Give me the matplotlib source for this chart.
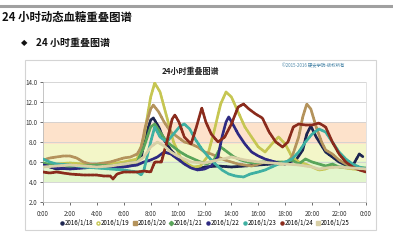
import matplotlib
matplotlib.use("Agg")
import matplotlib.pyplot as plt
from matplotlib.lines import Line2D
from matplotlib.patches import Rectangle

plt.rcParams['font.family'] = ['Noto Sans CJK SC', 'DejaVu Sans']

# ---------------- data ----------------
labels = ["2016/1/18", "2016/1/19", "2016/1/20", "2016/1/21",
          "2016/1/22", "2016/1/23", "2016/1/24", "2016/1/25"]
colors = ["#1d2550", "#c6c652", "#b4935c", "#5aa55a",
          "#2e2a82", "#3fb0a2", "#8a2b1c", "#d8cfa6"]
markers = ["o", "o", "s", "D", "o", "o", "o", "s"]

t18 = [0, 0.5, 1, 2, 3, 4, 5, 6, 7, 7.3, 7.6, 8.0, 8.2, 8.6, 9.0, 9.5, 10, 10.5, 11, 11.5, 12, 13, 14, 15, 16, 17, 18, 18.8, 19.3, 19.6, 19.9, 20.3, 21, 22, 22.5, 23, 23.5, 23.8]
v18 = [5.8, 5.5, 5.3, 5.4, 5.5, 5.6, 5.7, 5.8, 5.9, 6.5, 8.5, 10.2, 10.4, 9.5, 8.2, 7.2, 6.5, 6.0, 5.5, 5.3, 5.5, 5.6, 5.5, 5.6, 5.7, 5.8, 5.9, 6.2, 7.2, 8.8, 9.6, 8.5, 7.0, 6.0, 5.7, 5.6, 6.8, 6.5]

t19 = [0, 1, 2, 3, 4, 5, 6, 7, 7.5, 8.0, 8.3, 8.7, 9.2, 9.7, 10.2, 10.7, 11.2, 11.7, 12.2, 12.7, 13.2, 13.6, 14.0, 14.5, 15.0, 15.5, 16, 16.5, 17.0, 17.5, 18.0, 18.5, 19, 19.5, 20, 20.5, 21, 21.5, 22, 22.5, 23, 24]
v19 = [5.6, 5.8, 5.9, 5.8, 5.7, 5.8, 6.0, 6.3, 8.5, 12.5, 13.9, 13.0, 10.5, 8.0, 6.5, 5.8, 5.5, 5.6, 6.5, 9.0, 11.8, 13.0, 12.5, 11.0, 9.5, 8.5, 7.5, 7.0, 7.8, 8.5, 7.8, 6.5, 6.0, 5.8, 5.5, 5.2, 5.3, 5.6, 5.5, 5.4, 5.3, 5.2]

t20 = [0, 0.5, 1, 1.5, 2, 2.5, 3, 3.5, 4, 4.5, 5, 5.5, 6, 6.5, 7, 7.3, 7.6, 8.0, 8.2, 8.6, 9.0, 9.5, 10, 10.5, 11, 11.5, 12, 12.5, 13, 13.5, 14, 14.5, 15, 15.5, 16, 16.5, 17, 17.5, 18, 18.5, 19, 19.3, 19.6, 19.9, 20.3, 20.7, 21, 21.5, 22, 22.5, 23, 23.5, 24]
v20 = [6.2, 6.4, 6.5, 6.6, 6.6, 6.4, 6.0, 5.8, 5.8, 5.9, 6.0, 6.2, 6.4, 6.5, 6.8, 7.5, 9.5, 11.3, 11.7, 11.0, 10.0, 9.0, 8.5, 8.0, 7.8, 7.5, 7.0, 6.8, 6.5, 6.2, 6.0, 5.8, 5.7, 5.6, 5.8, 6.0, 6.0, 5.8, 5.8, 6.5, 8.5, 10.5, 11.8, 11.3, 9.5, 8.0, 7.2, 6.8, 6.2, 5.8, 5.5, 5.4, 5.3]

t21 = [0, 1, 2, 3, 4, 5, 6, 7, 7.5, 8.0, 8.3, 8.7, 9.2, 9.7, 10.2, 10.7, 11.2, 11.7, 12.2, 12.7, 13.2, 13.7, 14.2, 14.7, 15.2, 15.7, 16.2, 17, 18, 18.5, 19, 19.5, 20, 20.5, 21, 21.5, 22, 23, 24]
v21 = [5.9, 5.6, 5.5, 5.6, 5.7, 5.6, 5.8, 6.0, 7.5, 9.5, 9.8, 9.0, 8.0, 7.5, 7.0, 6.6, 6.3, 6.0, 5.8, 6.2, 7.5, 7.0, 6.5, 6.2, 6.0, 5.9, 6.0, 6.0, 6.0, 6.2, 5.8, 6.3, 6.0, 5.8, 5.6, 5.8, 5.5, 5.5, 5.4]

t22 = [0, 1, 2, 3, 4, 5, 6, 7, 7.5, 8, 8.5, 9, 9.5, 10, 10.5, 11, 11.5, 12, 12.5, 13, 13.3, 13.6, 13.8, 14.1, 14.5, 15, 15.5, 16, 16.5, 17, 17.5, 18]
v22 = [5.7, 5.4, 5.3, 5.4, 5.5, 5.4, 5.5, 5.7, 6.0, 6.2, 6.5, 7.0, 6.8, 6.3, 5.8, 5.4, 5.2, 5.3, 5.6, 6.5, 8.5, 10.0, 10.5, 9.8, 8.8, 7.8, 7.0, 6.6, 6.3, 6.1, 5.9, 5.8]

t23 = [0, 0.5, 1, 2, 3, 4, 5, 6, 7, 7.3, 7.5, 8, 8.3, 8.7, 9.2, 9.7, 10.2, 10.5, 10.9, 11.3, 11.8, 12.3, 12.8, 13.3, 13.8, 14.3, 14.9, 15.4, 16, 16.5, 17, 17.5, 18, 18.5, 19, 19.5, 20, 20.5, 21, 21.5, 22, 22.5, 23, 23.5, 24]
v23 = [6.3, 6.0, 5.8, 5.7, 5.5, 5.4, 5.3, 5.2, 5.0, 4.7, 5.2, 8.0, 9.5, 8.5, 8.0, 8.8, 9.6, 9.8, 9.3, 8.3, 7.3, 6.5, 5.8, 5.2, 4.8, 4.6, 4.5, 4.8, 5.0, 5.2, 5.5, 5.8, 6.0, 6.3, 7.0, 8.0, 8.8, 9.3, 9.0, 8.0, 7.0, 6.3, 5.8, 5.5, 5.3]

t24 = [0, 0.5, 1, 1.5, 2, 3, 4, 4.5, 5, 5.2, 5.5, 6, 6.5, 7, 7.5, 8, 8.3, 8.8, 9.2, 9.6, 9.8, 10.1, 10.5, 11, 11.4, 11.8, 12.1, 12.5, 13, 13.5, 14, 14.5, 14.9, 15.3, 15.8, 16.3, 16.8, 17.3, 17.8, 18.2, 18.6, 19, 19.5, 20, 20.5, 21, 21.5, 22, 22.5, 23, 23.5, 24]
v24 = [5.0, 4.9, 5.0, 4.9, 4.8, 4.7, 4.7, 4.6, 4.6, 4.3, 4.8, 5.0, 5.0, 5.0, 5.1, 5.0, 6.0, 6.0, 8.0, 10.3, 10.7, 10.0, 8.5, 7.8, 9.5, 11.4, 10.0, 8.8, 8.0, 8.5, 9.8, 11.5, 11.8, 11.3, 10.8, 10.4, 9.0, 8.0, 7.5, 8.0, 9.5, 9.8, 9.7, 9.7, 9.9, 9.5, 8.0, 6.8, 6.0, 5.5, 5.2, 5.0]

t25 = [0, 1, 2, 3, 4, 5, 6, 7, 7.5, 8, 8.5, 9, 9.5, 10, 10.5, 11, 12, 13, 14, 15, 16, 17, 18, 19, 20, 20.5, 21, 22, 23, 24]
v25 = [5.5, 5.6, 5.7, 5.6, 5.5, 5.6, 5.8, 6.0, 6.5, 7.5, 8.0, 7.6, 7.0, 6.6, 6.3, 6.0, 5.9, 6.2, 6.5, 6.2, 6.0, 5.9, 5.8, 5.7, 5.5, 5.3, 5.4, 5.5, 5.4, 5.3]

series_t = [t18, t19, t20, t21, t22, t23, t24, t25]
series_v = [v18, v19, v20, v21, v22, v23, v24, v25]

xticks = list(range(0, 25, 2))
xticklabels = ["0:00", "2:00", "4:00", "6:00", "8:00", "10:00", "12:00",
               "14:00", "16:00", "18:00", "20:00", "22:00", "0:00"]
yticks = [2, 4, 6, 8, 10, 12, 14]

# ---------------- figure ----------------
W, H = 393, 240
fig = plt.figure(figsize=(W / 100, H / 100), dpi=100)
fig.patch.set_facecolor("white")

def fx(px):
    return px / W

def fy(py):
    return 1 - py / H

# top gray rule
fig.add_artist(Line2D([0, 1], [fy(6), fy(6)], color="#a0a0a0", lw=2.2,
                      transform=fig.transFigure))
fig.text(fx(2), fy(17), "24 小时动态血糖重叠图谱", fontsize=8.2,
         fontweight="bold", va="center", ha="left", color="#111111")
fig.text(fx(21), fy(43), "◆", fontsize=6, va="center", ha="left",
         color="#111111", family=["DejaVu Sans"])
fig.text(fx(36), fy(43), "24 小时重叠图谱", fontsize=7.2,
         fontweight="bold", va="center", ha="left", color="#111111")

# chart frame
fig.add_artist(Rectangle((fx(25), fy(230)), fx(376) - fx(25), fy(60) - fy(230),
                         transform=fig.transFigure, facecolor="white",
                         edgecolor="#d4d4d4", lw=0.8, zorder=0))
fig.text(fx(190), fy(71), "24小时重叠图谱", fontsize=5.8, fontweight="bold",
         ha="center", va="center", color="#222222")
fig.text(fx(313), fy(66), "©2015-2016 硬安学院-版权所有", fontsize=3.2,
         ha="center", va="center", color="#4a86a8")

ax = fig.add_axes([fx(43), fy(202), fx(366) - fx(43), fy(82) - fy(202)])
ax.set_facecolor("none")
ax.set_xlim(0, 24)
ax.set_ylim(2, 14)

# range bands
ax.axhspan(7.8, 10.0, color="#fde2cb", zorder=0, lw=0)
ax.axhspan(6.1, 7.8, color="#f3f6c8", zorder=0, lw=0)
ax.axhspan(4.0, 6.1, color="#e2f6cc", zorder=0, lw=0)

for y in yticks:
    ax.axhline(y, color="#d0d0d0", lw=0.6, zorder=1)

for t, v, c in zip(series_t, series_v, colors):
    ax.plot(t, v, color=c, lw=2.0, linestyle=(0, (0.9, 0.45)),
            dash_capstyle="round", solid_capstyle="round", zorder=3)

ax.spines["top"].set_visible(False)
ax.spines["left"].set_color("#bbbbbb")
ax.spines["bottom"].set_color("#bbbbbb")
ax.spines["right"].set_color("#dddddd")
for s in ax.spines.values():
    s.set_linewidth(0.6)

ax.set_xticks(xticks)
ax.set_xticklabels(xticklabels)
ax.set_yticks(yticks)
ax.set_yticklabels([f"{y:.1f}" for y in yticks])
ax.tick_params(axis="both", labelsize=4.5, colors="#333333", length=2,
               width=0.5, pad=2)
ax.tick_params(axis="x", pad=4)

handles = [Line2D([], [], color=c, marker=m, linestyle="none", markersize=2.2,
                  markerfacecolor=("white" if i == 1 else c))
           for i, (c, m) in enumerate(zip(colors, markers))]
fig.legend(handles, labels, loc="center", bbox_to_anchor=(fx(205), fy(223)),
           ncol=8, frameon=False, fontsize=4.4, handlelength=0.5,
           handletextpad=0.2, columnspacing=0.6, borderaxespad=0)

fig.savefig("out.png", dpi=100)
